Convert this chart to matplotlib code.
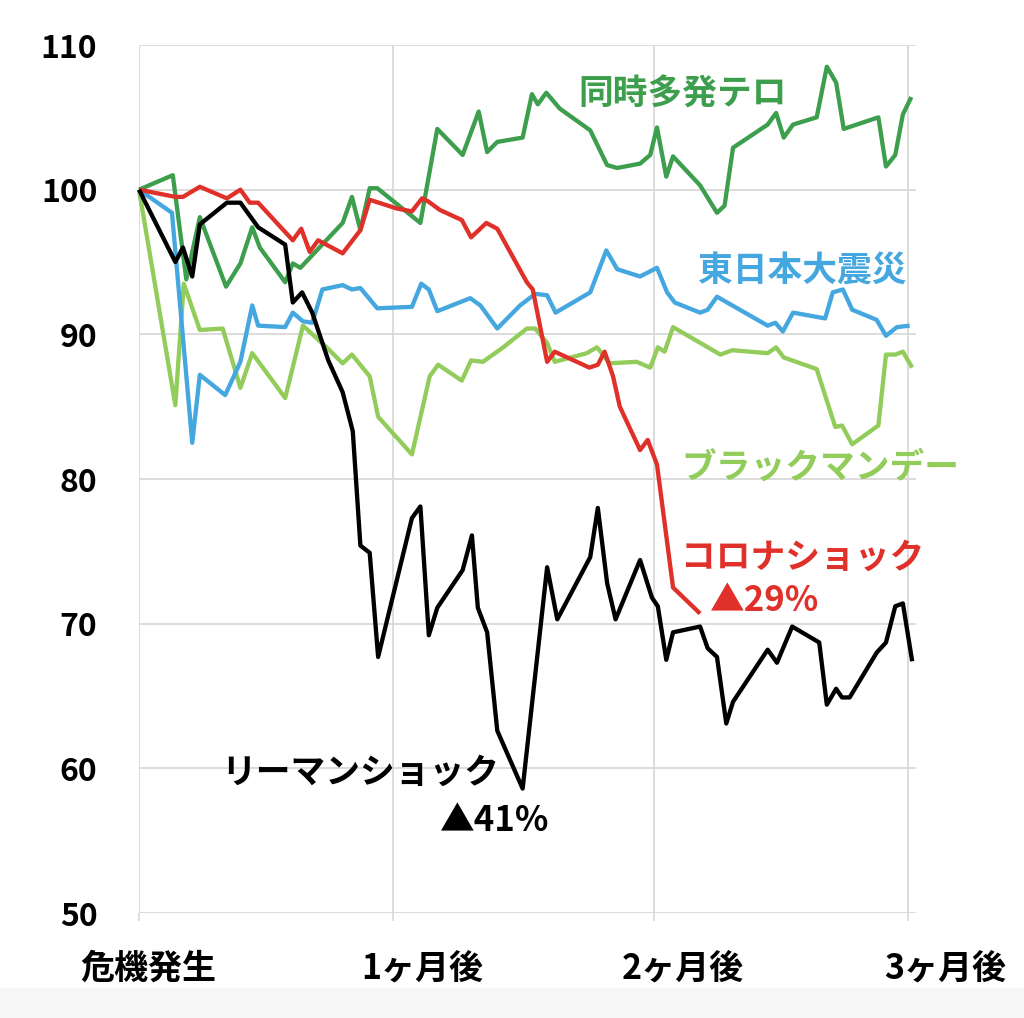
import matplotlib
matplotlib.use("Agg")
import matplotlib.pyplot as plt
from matplotlib.patches import Rectangle

plt.rcParams['font.family'] = ['Noto Sans CJK JP', 'DejaVu Sans']

# ---- data (x: calendar days after the crisis, y: index, start = 100) ----
lehman_days = [0, 4.3, 5.2, 6.3, 7.2, 10.4, 12.0, 14.1, 17.3, 18.2, 19.3, 20.5, 22.4, 24.1, 25.3,
               26.2, 27.3, 28.3, 32.3, 33.3, 34.3, 35.3, 38.3, 39.4, 40.1, 41.2, 42.4, 45.4, 48.3,
               49.5, 53.4, 54.3, 55.4, 56.4, 59.3, 60.7, 61.4, 62.4, 63.2, 66.4, 67.3, 68.4, 69.5,
               70.3, 74.4, 75.5, 77.3, 80.5, 81.4, 82.5, 83.2, 84.1, 87.3, 88.4, 89.5, 90.4, 91.5]
lehman_vals = [100, 95.0, 96.0, 94.0, 97.6, 99.1, 99.1, 97.4, 96.2, 92.2, 92.9, 91.5, 88.2, 86.0, 83.3,
               75.4, 74.9, 67.7, 77.3, 78.1, 69.2, 71.1, 73.7, 76.1, 71.1, 69.4, 62.6, 58.6, 73.9,
               70.3, 74.6, 78.0, 72.8, 70.3, 74.4, 71.8, 71.2, 67.5, 69.4, 69.8, 68.3, 67.7, 63.1,
               64.6, 68.2, 67.3, 69.8, 68.7, 64.4, 65.5, 64.9, 64.9, 68.0, 68.7, 71.2, 71.4, 67.4]

corona_days = [0, 4.3, 5.2, 7.2, 10.4, 12.0, 13.1, 14.1, 18.2, 19.2, 20.2, 21.2, 24.1, 26.2, 27.3,
               30.5, 32.3, 33.5, 34.2, 35.6, 38.2, 39.3, 41.1, 42.4, 45.9, 46.6, 48.3, 49.2, 53.3,
               54.3, 55.1, 56.1, 56.9, 59.3, 60.2, 61.3, 63.2, 66.4]
corona_vals = [100, 99.5, 99.5, 100.2, 99.4, 100.0, 99.1, 99.1, 96.5, 97.3, 95.7, 96.5, 95.6, 97.2, 99.3,
               98.7, 98.5, 99.4, 99.2, 98.6, 97.9, 96.7, 97.7, 97.3, 93.6, 93.1, 88.1, 88.8, 87.7,
               87.9, 88.8, 87.1, 85.0, 82.0, 82.7, 81.0, 72.5, 70.7]

terror_days = [0, 4.0, 5.6, 7.2, 10.3, 12.0, 13.4, 14.3, 17.3, 18.2, 19.1, 24.1, 25.2, 26.2, 27.3,
               28.2, 33.3, 35.3, 38.3, 40.2, 41.2, 42.4, 45.4, 46.5, 47.2, 48.2, 49.8, 53.4, 55.4,
               56.6, 59.3, 60.5, 61.3, 62.4, 63.2, 66.4, 68.4, 69.3, 70.3, 74.4, 75.4, 76.3, 77.4,
               80.2, 81.4, 82.5, 83.4, 87.5, 88.4, 89.5, 90.4, 91.4]
terror_vals = [100, 101.0, 93.8, 98.1, 93.3, 94.9, 97.4, 96.0, 93.6, 94.9, 94.6, 97.7, 99.5, 97.2, 100.1,
               100.1, 97.7, 104.2, 102.4, 105.4, 102.6, 103.3, 103.6, 106.6, 105.9, 106.7, 105.6, 104.1, 101.7,
               101.5, 101.8, 102.4, 104.3, 100.9, 102.3, 100.3, 98.4, 98.9, 102.9, 104.5, 105.3, 103.6, 104.5,
               105.0, 108.5, 107.4, 104.2, 105.0, 101.6, 102.4, 105.2, 106.4]

quake_days = [0, 3.9, 6.3, 7.2, 10.2, 12.0, 13.4, 14.1, 17.3, 18.2, 19.4, 20.5, 21.7, 24.1, 25.2,
              26.2, 28.2, 32.3, 33.4, 34.3, 35.3, 39.2, 40.4, 42.4, 45.1, 46.9, 48.3, 49.3, 53.4,
              55.3, 56.6, 59.3, 61.3, 62.5, 63.4, 66.4, 67.3, 68.4, 74.4, 75.3, 76.2, 77.4, 81.2,
              82.1, 83.3, 84.4, 87.3, 88.4, 89.7, 91.2]
quake_vals = [100, 98.4, 82.5, 87.2, 85.8, 88.1, 92.0, 90.6, 90.5, 91.5, 90.9, 90.8, 93.1, 93.4, 93.1,
              93.2, 91.8, 91.9, 93.5, 93.1, 91.6, 92.5, 92.0, 90.4, 92.0, 92.8, 92.7, 91.5, 92.9,
              95.8, 94.5, 94.0, 94.6, 92.9, 92.2, 91.5, 91.7, 92.6, 90.6, 90.8, 90.2, 91.5, 91.1,
              92.9, 93.1, 91.7, 91.0, 89.9, 90.5, 90.6]

bm_days = [0, 4.3, 5.3, 7.2, 9.9, 12.0, 13.4, 17.3, 19.4, 22.2, 24.1, 25.2, 27.3, 28.3, 32.3,
           34.4, 35.4, 38.2, 39.3, 40.7, 43.1, 45.9, 46.9, 48.3, 49.2, 53.0, 54.2, 55.7, 58.9,
           60.5, 61.4, 62.2, 63.2, 68.8, 70.2, 74.4, 75.4, 76.3, 80.2, 82.4, 83.2, 84.4, 87.5,
           88.4, 89.5, 90.4, 91.5]
bm_vals = [100, 85.1, 93.5, 90.3, 90.4, 86.3, 88.7, 85.6, 90.6, 89.1, 88.0, 88.6, 87.1, 84.3, 81.7,
           87.1, 87.9, 86.8, 88.2, 88.1, 89.1, 90.4, 90.4, 89.4, 88.1, 88.7, 89.1, 88.0, 88.1,
           87.7, 89.1, 88.8, 90.5, 88.6, 88.9, 88.7, 89.1, 88.4, 87.6, 83.6, 83.7, 82.4, 83.7,
           88.6, 88.6, 88.8, 87.7]

month_ticks = [0, 30, 61, 91]
month_labels = ['危機発生', '1ヶ月後', '2ヶ月後', '3ヶ月後']
y_ticks = [50, 60, 70, 80, 90, 100, 110]

# ---- styles ----
C_BLACK = '#000000'
C_RED = '#e0302a'
C_GREEN = '#3d9e4e'
C_BLUE = '#45a7df'
C_LGREEN = '#92cc5a'

fig = plt.figure(figsize=(10.24, 10.18), dpi=100)
fig.patch.set_facecolor('white')
fig.patches.append(Rectangle((0, 0), 1, 30 / 1018, transform=fig.transFigure,
                             facecolor='#f6f6f6', edgecolor='none', zorder=-10))

ax = fig.add_axes([139 / 1024, 105 / 1018, 92 * 8.45 / 1024, 868 / 1018])
ax.set_xlim(0, 92)
ax.set_ylim(50, 110)

lw = 3.1
kw = dict(lw=lw, solid_joinstyle='round', solid_capstyle='butt', clip_on=False)
ax.plot(bm_days, bm_vals, color=C_LGREEN, zorder=2, **kw)
ax.plot(quake_days, quake_vals, color=C_BLUE, zorder=3, **kw)
ax.plot(terror_days, terror_vals, color=C_GREEN, zorder=4, **kw)
ax.plot(corona_days, corona_vals, color=C_RED, zorder=5, **kw)
ax.plot(lehman_days, lehman_vals, color=C_BLACK, zorder=6, **kw)

for s in ax.spines.values():
    s.set_visible(False)

ax.set_yticks(y_ticks)
ax.set_yticklabels([str(v) for v in y_ticks], fontsize=23, fontweight='bold')
ax.tick_params(axis='y', length=0, pad=30)
ax.set_xticks(month_ticks)
ax.set_xticklabels([])
ax.tick_params(axis='x', length=6, color='#d9d9d9', width=1.2)
ax.grid(True, color='#d9d9d9', lw=1.3, zorder=0)
ax.set_axisbelow(True)

# x labels (offset to the right of the gridlines, as in the reference)
label_x = [1.1, 33.5, 64.3, 95.4]
for xv, lab in zip(label_x, month_labels):
    ax.text(xv, -0.063, lab, transform=ax.get_xaxis_transform(), ha='center', va='center',
            fontsize=24.5, fontweight='bold', color='black', clip_on=False)

# series labels
tk = dict(ha='center', va='center', fontsize=25, fontweight='bold', clip_on=False)
ax.text(64.3, 106.6, '同時多発テロ', color=C_GREEN, **tk)
ax.text(78.5, 94.45, '東日本大震災', color=C_BLUE, **tk)
ax.text(80.6, 80.8, 'ブラックマンデー', color=C_LGREEN, **tk)
ax.text(78.5, 74.6, 'コロナショック', color=C_RED, **tk)
ax.text(74.0, 71.6, '▲29%', color=C_RED, **tk)
ax.text(26.2, 59.75, 'リーマンショック', color=C_BLACK, **tk)
ax.text(42.1, 56.4, '▲41%', color=C_BLACK, **tk)

fig.savefig('out.png', dpi=100, facecolor=fig.get_facecolor())
